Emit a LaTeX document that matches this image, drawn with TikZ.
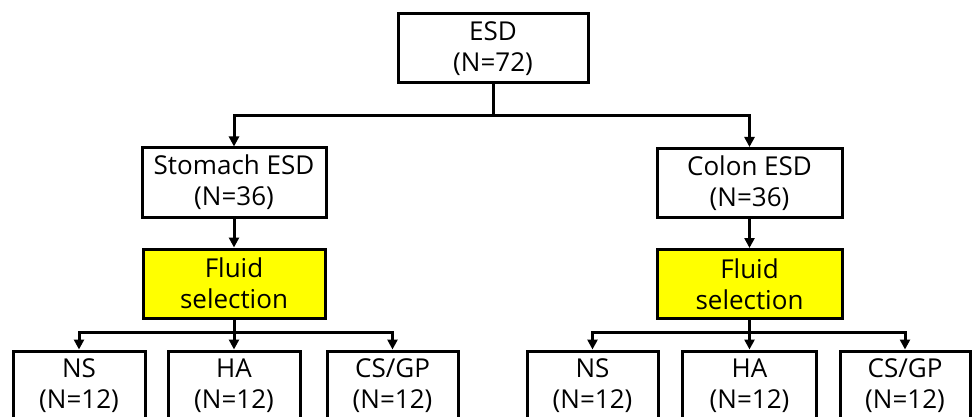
\documentclass[tikz,border=0pt]{standalone}
\usepackage{fontspec}
\setmainfont{Open Sans}
\usetikzlibrary{arrows.meta}
\definecolor{boxyellow}{RGB}{255,255,0}
\tikzset{
  box/.style={draw=black, line width=3pt, fill=white, align=center,
    inner sep=0pt, minimum height=69pt,
    font=\fontsize{26}{31}\selectfont},
  fluidbox/.style={box, fill=boxyellow},
  conn/.style={line width=3pt, draw=black},
  arr/.style={conn, -{Triangle[length=10pt,width=10pt]}},
}
\begin{document}
\begin{tikzpicture}[x=1pt,y=-1pt]
\clip (0,0) rectangle (972,417);
\fill[white] (0,0) rectangle (972,417);
% top
\node[box, minimum width=190pt] (esd) at (493,48.5) {ESD\\(N=72)};
% second level
\node[box, minimum width=184pt] (stom) at (234,182.5) {Stomach ESD\\(N=36)};
\node[box, minimum width=185pt] (colon) at (749.5,183) {Colon ESD\\(N=36)};
% fluid selection
\node[fluidbox, minimum width=182pt] (fluidL) at (234,283.5) {Fluid\\selection};
\node[fluidbox, minimum width=185pt] (fluidR) at (749.5,284) {Fluid\\selection};
% bottom row
\node[box, minimum width=132pt] (nsL) at (79,385.5) {NS\\(N=12)};
\node[box, minimum width=132pt] (haL) at (234,385.5) {HA\\(N=12)};
\node[box, minimum width=131pt] (csL) at (392.5,385.5) {CS/GP\\(N=12)};
\node[box, minimum width=131pt] (nsR) at (592.5,385.5) {NS\\(N=12)};
\node[box, minimum width=134pt] (haR) at (749.5,385.5) {HA\\(N=12)};
\node[box, minimum width=130pt] (csR) at (905,385.5) {CS/GP\\(N=12)};
% bus coordinates
\coordinate (bus1) at (493,116);
\coordinate (busL) at (234,332);
\coordinate (busR) at (749.5,332);
% connectors
\draw[conn] (esd.south) -- (bus1);
\draw[arr] (bus1) -| (stom.north);
\draw[arr] (bus1) -| (colon.north);
\draw[arr] (stom.south) -- (fluidL.north);
\draw[arr] (colon.south) -- (fluidR.north);
\draw[arr] (fluidL.south) -- (haL.north);
\draw[arr] (busL) -| (nsL.north);
\draw[arr] (busL) -| (csL.north);
\draw[arr] (fluidR.south) -- (haR.north);
\draw[arr] (busR) -| (nsR.north);
\draw[arr] (busR) -| (csR.north);
\end{tikzpicture}
\end{document}
